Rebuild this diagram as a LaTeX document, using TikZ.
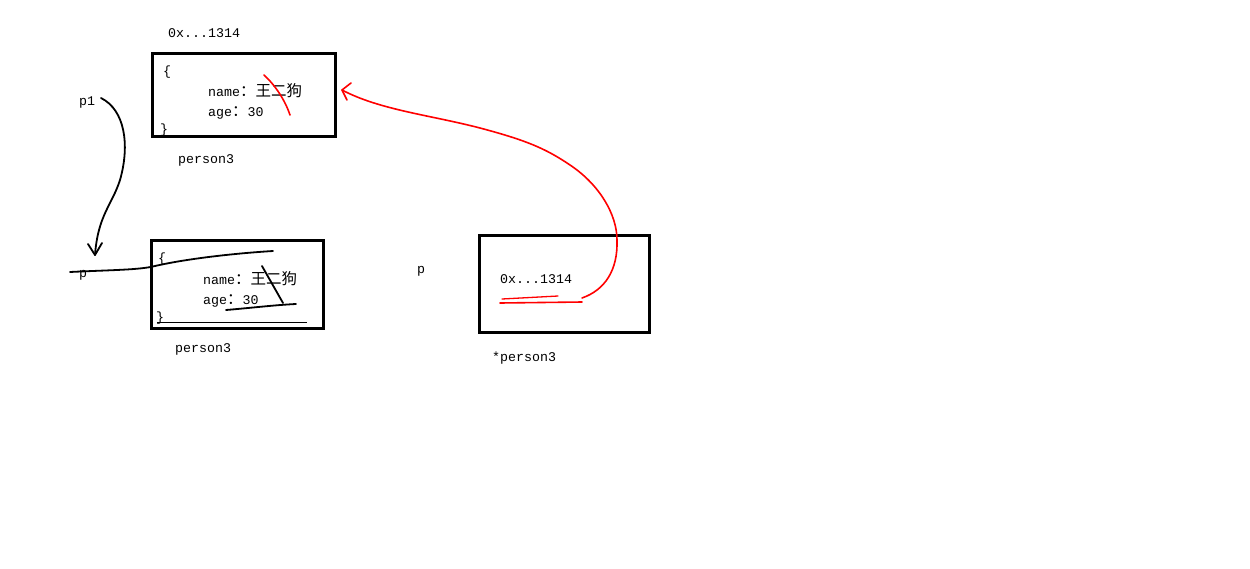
\documentclass[tikz,border=0pt]{standalone}
\usepackage{fontspec}
\newfontfamily\mono{Liberation Mono}
\newfontfamily\cjk{Noto Sans CJK SC}
\newcommand{\cj}[1]{{\fontsize{15.5}{17}\selectfont\cjk #1}}
\usetikzlibrary{arrows.meta}
\begin{document}
\begin{tikzpicture}[x=1pt,y=-1pt,
  txt/.style={anchor=base west,inner sep=0pt,font=\fontsize{13.3}{15}\selectfont\mono},
  membox/.style={draw=black,line width=3pt},
  ink/.style={draw=black,line width=1.8pt,line cap=round,line join=round},
  redink/.style={draw=red,line width=1.6pt,line cap=round,line join=round}]
\useasboundingbox[fill=white] (0,0) rectangle (1250,568);

% box 1
\node[txt] (addr1) at (168,37) {0x...1314};
\node[txt] (ob1) at (163,75) {\{};
\node[txt] (name1) at (208,96) {name\cj{：王二狗}};
\node[txt] (age1) at (208,116) {age\cj{：}30};
\node[txt] (cb1) at (160,133) {\}};
\draw[membox] (152,53) rectangle (335,136);
\node[txt] (lab1) at (178,163) {person3};
\node[txt] (p1) at (79,105) {p1};

% box 2
\node[txt] (ob2) at (158,262) {\{};
\node[txt] (name2) at (203,284) {name\cj{：王二狗}};
\node[txt] (age2) at (203,304) {age\cj{：}30};
\node[txt] (cb2) at (156,321) {\}};
\draw[membox] (151,240) rectangle (323,328);
\draw[draw=black,line width=1pt] (157,322) -- (307,322);
\node[txt] (lab2) at (175,352) {person3};
\node[txt] (pleft) at (79,277) {p};

% box 3
\node[txt] (pmid) at (417,273) {p};
\draw[membox] (479,235) rectangle (649,332);
\node[txt] (addr3) at (500,283) {0x...1314};
\node[txt] (lab3) at (492,361) {*person3};

% black strokes
\coordinate (bstart) at (101,98);
\coordinate (btip) at (95,255);
\draw[ink] (bstart) .. controls (125,110) and (130,145) .. (120,180)
  .. controls (112,205) and (98,215) .. (btip);
\draw[ink] (88,244) -- (btip) -- (102,243);
\draw[ink] (70,272) .. controls (110,270) and (140,270) .. (155,266)
  .. controls (190,258) and (240,253) .. (273,251);
\draw[ink] (262,266) -- (283,303);
\draw[ink] (226,310) .. controls (250,308) and (275,305) .. (296,304);

% red strokes
\draw[redink] (264,75) .. controls (275,85) and (285,100) .. (290,115);
\draw[redink,line width=1.3pt] (502,299) -- (558,296);
\draw[redink] (500,303) -- (582,302);
\coordinate (rstart) at (582,298);
\coordinate (rtip) at (342,90);
\draw[redink] (rstart) .. controls (605,290) and (618,270) .. (617,240)
  .. controls (617,215) and (600,185) .. (570,165)
  .. controls (545,148) and (525,140) .. (480,128)
  .. controls (430,115) and (380,110) .. (rtip);
\draw[redink] (351,83) -- (rtip) -- (347,100);
\end{tikzpicture}
\end{document}
